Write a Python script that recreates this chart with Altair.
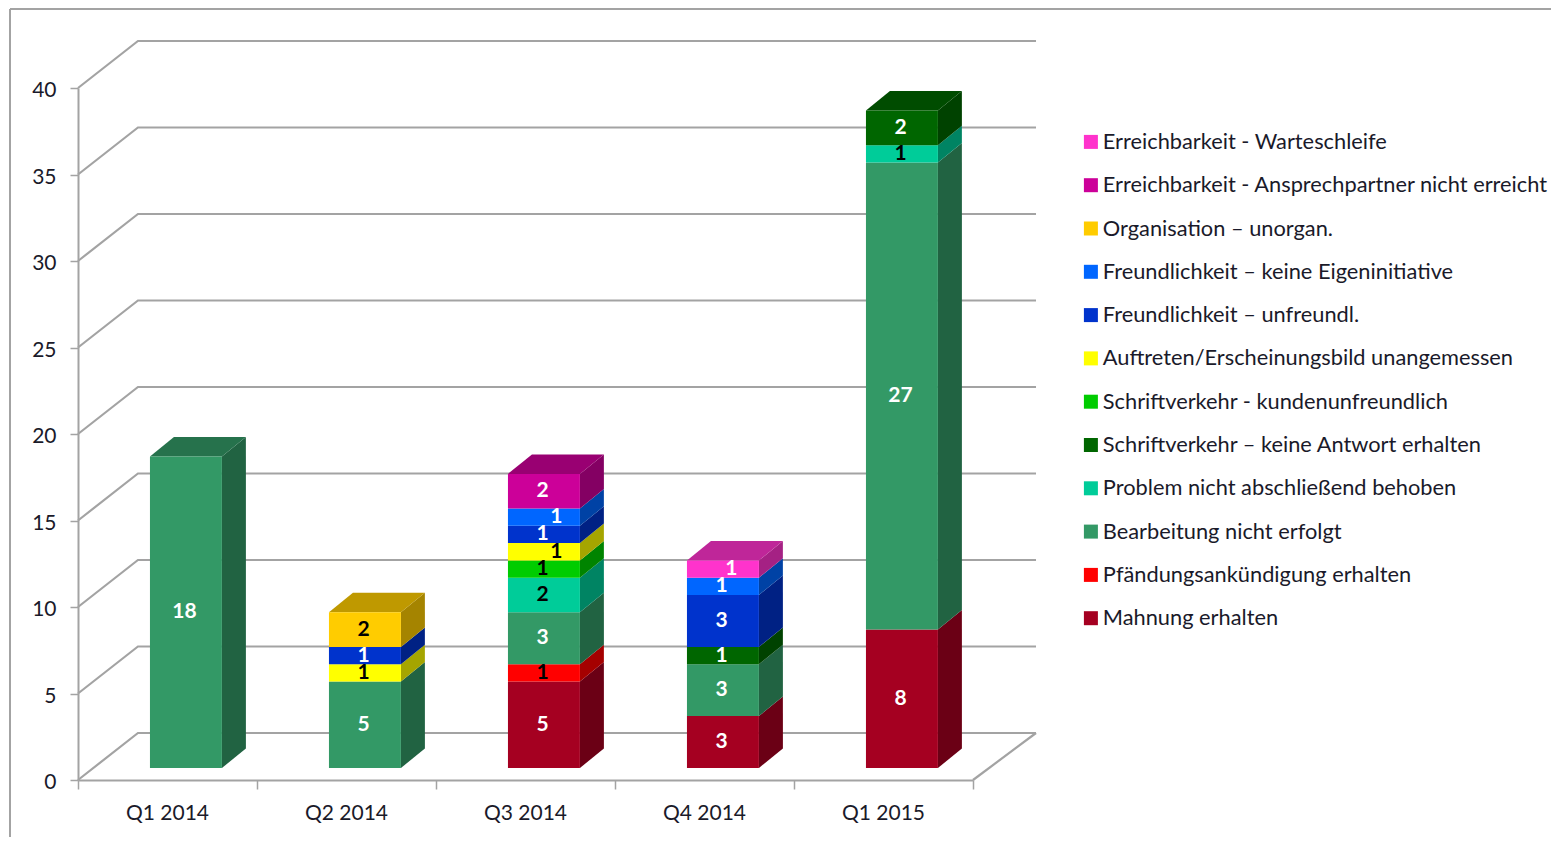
import altair as alt
import pandas as pd

quarters = ["Q1 2014", "Q2 2014", "Q3 2014", "Q4 2014", "Q1 2015"]
series_bottom_up = [
    "Mahnung erhalten", "Pfändungsankündigung erhalten", "Bearbeitung nicht erfolgt",
    "Problem nicht abschließend behoben", "Schriftverkehr – keine Antwort erhalten",
    "Schriftverkehr - kundenunfreundlich", "Auftreten/Erscheinungsbild unangemessen",
    "Freundlichkeit – unfreundl.", "Freundlichkeit – keine Eigeninitiative",
    "Organisation – unorgan.", "Erreichbarkeit - Ansprechpartner nicht erreicht",
    "Erreichbarkeit - Warteschleife",
]
colors = ["#A50021", "#FF0000", "#339966", "#00CC99", "#006600", "#00CC00",
          "#FFFF00", "#0033CC", "#0066FF", "#FFCC00", "#CC0099", "#FF33CC"]
label_black = [False, True, False, True, False, True, True, False, False, True, False, False]

mahnung = [0, 0, 5, 3, 8]
pfaendung = [0, 0, 1, 0, 0]
bearbeitung = [18, 5, 3, 3, 27]
problem = [0, 0, 2, 0, 1]
keine_antwort = [0, 0, 0, 1, 2]
kundenunfreundlich = [0, 0, 1, 0, 0]
auftreten = [0, 1, 1, 0, 0]
unfreundlich = [0, 1, 1, 3, 0]
eigeninitiative = [0, 0, 1, 1, 0]
organisation = [0, 2, 0, 0, 0]
ansprechpartner = [0, 0, 2, 0, 0]
warteschleife = [0, 0, 0, 1, 0]
values = [mahnung, pfaendung, bearbeitung, problem, keine_antwort, kundenunfreundlich,
          auftreten, unfreundlich, eigeninitiative, organisation, ansprechpartner, warteschleife]

# labels nudged sideways in the original: (quarter index, series index) -> x units
dodged_labels = {(2, 8): 0.078, (2, 6): 0.078, (3, 11): 0.055}

# geometry in data units
BAR_START, BAR_WIDTH = 0.402, 0.402
DEPTH_X, DEPTH_Y = 0.134, 1.127
BASE = 0.694
WALL_X, WALL_Y, BACK_END = 0.335, 2.717, 5.352
LABEL_SHIFT = -0.008
FONT = "Lato"
GRID = "#a3a3a3"
TEXT = "#1a1a2a"


def shade(hex_color, factor):
    r, g, b = (int(hex_color[k:k + 2], 16) for k in (1, 3, 5))
    return "#%02x%02x%02x" % (int(r * factor), int(g * factor), int(b * factor))


front, side, top, labels = [], [], [], []
for q in range(len(quarters)):
    x0 = q + BAR_START
    x1 = x0 + BAR_WIDTH
    level = BASE
    for s, vals in enumerate(values):
        v = vals[q]
        if not v:
            continue
        front.append(dict(x=x0, x2=x1, y=level, y2=level + v, series=series_bottom_up[s]))
        key = f"{q}-{s}"
        col = shade(colors[s], 0.65)
        side.append(dict(id=key, x=x1, y=level, y2=level + v, c=col))
        side.append(dict(id=key, x=x1 + DEPTH_X, y=level + DEPTH_Y, y2=level + v + DEPTH_Y, c=col))
        labels.append(dict(
            x=(x0 + x1) / 2 + LABEL_SHIFT + dodged_labels.get((q, s), 0),
            y=level + v / 2, t=str(v), c="#000000" if label_black[s] else "#ffffff"))
        level += v
        last = s
    key = f"{q}"
    col = shade(colors[last], 0.75)
    top.append(dict(id=key, x=x0, x2=x1, y=level, c=col))
    top.append(dict(id=key, x=x0 + DEPTH_X, x2=x1 + DEPTH_X, y=level + DEPTH_Y, c=col))

grid = []
for v in range(0, 45, 5):
    grid += [dict(v=v, o=0, x=0, y=v), dict(v=v, o=1, x=WALL_X, y=v + WALL_Y),
             dict(v=v, o=2, x=BACK_END, y=v + WALL_Y)]
grid += [dict(v=-1, o=0, x=BACK_END, y=WALL_Y), dict(v=-1, o=1, x=5, y=0)]

x_scale = alt.Scale(domain=[0, 5], nice=False, zero=False)
y_scale = alt.Scale(domain=[0, 40], nice=False, zero=False)
X = alt.X("x:Q", scale=x_scale, axis=alt.Axis(
    values=list(range(6)), labels=False, title=None, grid=False, domainColor=GRID,
    domainWidth=2, tickColor=GRID, tickWidth=1.5, tickSize=9))
Y = alt.Y("y:Q", scale=y_scale, axis=alt.Axis(
    values=list(range(0, 45, 5)), title=None, grid=False, domainColor=GRID, domainWidth=2,
    tickColor=GRID, tickWidth=1.5, tickSize=8, labelFont=FONT, labelFontSize=21,
    labelColor=TEXT, labelPadding=14, labelOffset=2.5))

frame_left = alt.Chart(pd.DataFrame({"a": [0]})).mark_rule(color=GRID, strokeWidth=2).encode(
    x=alt.value(-68), y=alt.value(-79), y2=alt.value(749))
frame_top = alt.Chart(pd.DataFrame({"a": [0]})).mark_rule(color=GRID, strokeWidth=2).encode(
    x=alt.value(-68), x2=alt.value(1473), y=alt.value(-79))

grid_layer = alt.Chart(pd.DataFrame(grid)).mark_line(color=GRID, strokeWidth=2.2, clip=False).encode(
    x=X, y=Y, detail="v:N", order="o:Q")
side_layer = alt.Chart(pd.DataFrame(side)).mark_area(clip=False).encode(
    x=alt.X("x:Q", scale=x_scale), y=alt.Y("y:Q", scale=y_scale), y2="y2:Q",
    detail="id:N", color=alt.Color("c:N", scale=None))
top_layer = alt.Chart(pd.DataFrame(top)).mark_area(orient="horizontal", clip=False).encode(
    y=alt.Y("y:Q", scale=y_scale), x=alt.X("x:Q", scale=x_scale), x2="x2:Q",
    detail="id:N", color=alt.Color("c:N", scale=None))
front_layer = alt.Chart(pd.DataFrame(front)).mark_rect(clip=False).encode(
    x=alt.X("x:Q", scale=x_scale), x2="x2:Q",
    y=alt.Y("y:Q", scale=y_scale), y2="y2:Q",
    color=alt.Color("series:N",
                    scale=alt.Scale(domain=series_bottom_up[::-1], range=colors[::-1]),
                    sort=series_bottom_up[::-1],
                    legend=alt.Legend(
                        orient="none", legendX=1002, legendY=43, title=None,
                        symbolType="square", symbolSize=196, symbolStrokeWidth=0,
                        labelFont=FONT, labelFontSize=21.8, labelColor=TEXT,
                        labelOffset=1, rowPadding=20.3, labelLimit=520)))
label_layer = alt.Chart(pd.DataFrame(labels)).mark_text(
    font=FONT, fontSize=21, fontWeight="bold", baseline="middle", clip=False).encode(
    x=alt.X("x:Q", scale=x_scale), y=alt.Y("y:Q", scale=y_scale),
    text="t:N", color=alt.Color("c:N", scale=None))
cat_df = pd.DataFrame({"x": [i + 0.5 for i in range(5)], "y": [0] * 5, "t": quarters})
cat_layer = alt.Chart(cat_df).mark_text(
    font=FONT, fontSize=21, color=TEXT, baseline="middle", dy=34, clip=False).encode(
    x=alt.X("x:Q", scale=x_scale), y=alt.Y("y:Q", scale=y_scale), text="t:N")

chart = alt.layer(frame_left, frame_top, grid_layer, side_layer, top_layer, front_layer,
                  label_layer, cat_layer).resolve_scale(color="independent").properties(
    width=895, height=692,
    autosize=alt.AutoSizeParams(type="none"),
    padding={"left": 70, "top": 80, "right": 578, "bottom": 57},
).configure_view(stroke=None)

chart.save("out.html", embed_options={"renderer": "svg", "actions": False})
